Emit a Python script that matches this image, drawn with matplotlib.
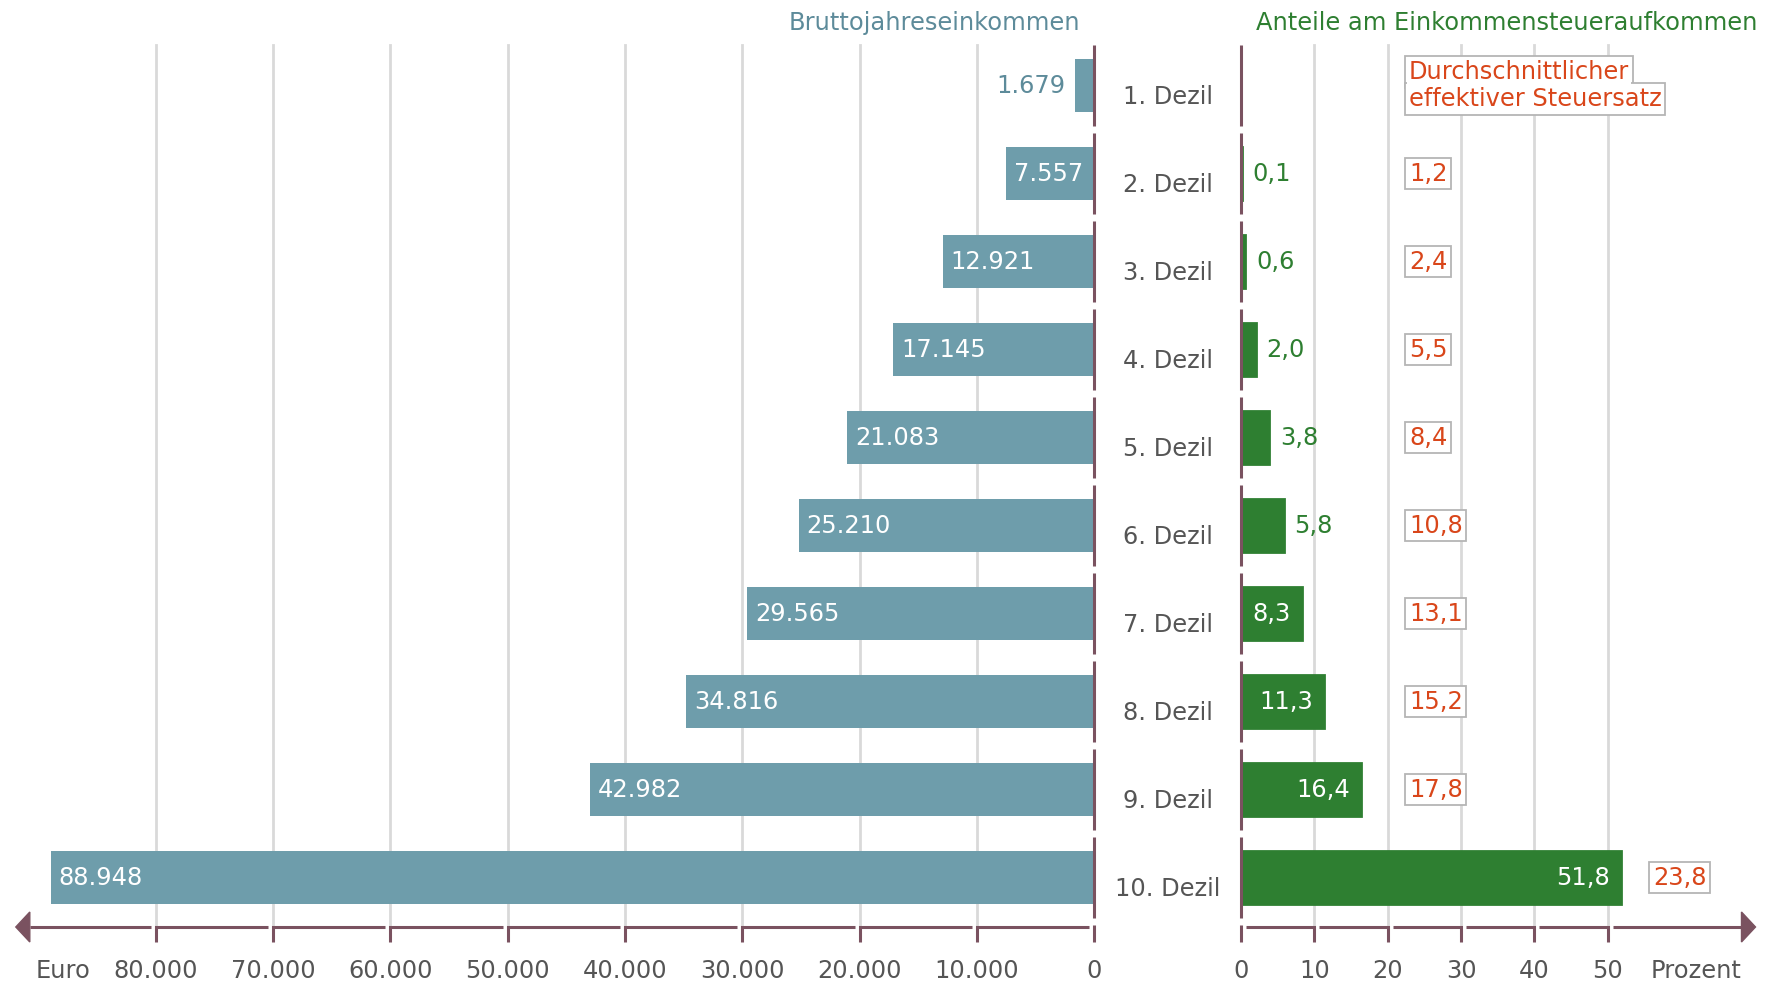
import matplotlib.pyplot as plt
from matplotlib.patches import Polygon

# Daten
dezile = ['1. Dezil', '2. Dezil', '3. Dezil', '4. Dezil', '5. Dezil',
          '6. Dezil', '7. Dezil', '8. Dezil', '9. Dezil', '10. Dezil']
einkommen = [1679, 7557, 12921, 17145, 21083, 25210, 29565, 34816, 42982, 88948]
anteile = [None, 0.1, 0.6, 2.0, 3.8, 5.8, 8.3, 11.3, 16.4, 51.8]
steuersatz = [None, 1.2, 2.4, 5.5, 8.4, 10.8, 13.1, 15.2, 17.8, 23.8]
euro_ticks = [0, 10000, 20000, 30000, 40000, 50000, 60000, 70000, 80000]
proz_ticks = [0, 10, 20, 30, 40, 50]

BLAU = '#6e9dab'
BLAU_TXT = '#5d8b9a'
GRUEN = '#2e7f31'
ROT = '#d9461a'
MAUVE = '#7a5260'
GRID = '#d9d9d9'
GRAU = '#555555'
FS = 17.4

W, H = 1769, 986
fig = plt.figure(figsize=(W / 100, H / 100), dpi=100)

# Pixelgeometrie
x0L = 1094.4
eur_px = (1094.4 - 155.7) / 80000
x0R = 1241.0
pct_px = (1607.7 - 1241.0) / 50
row0, row_h = 85.7, 88.0


def ypx(p):
    return (p - row0) / row_h


axL = fig.add_axes([0, 0, 1100 / W, 1])
axL.set_xlim(x0L / eur_px, (x0L - 1100) / eur_px)
axR = fig.add_axes([1100 / W, 0, 1 - 1100 / W, 1])
axR.set_xlim((1100 - x0R) / pct_px, (W - x0R) / pct_px)
for ax in (axL, axR):
    ax.set_ylim(ypx(H), ypx(0))
    ax.axis('off')

y_top = ypx(45)
y_ax = ypx(927)
tl = 15 / row_h
rows = list(range(len(dezile)))

# Gitterlinien
for t in euro_ticks[1:]:
    axL.plot([t, t], [y_top, y_ax], color=GRID, lw=2, zorder=0)
for t in proz_ticks[1:]:
    axR.plot([t, t], [y_top, y_ax], color=GRID, lw=2, zorder=0)

# Balken
axL.barh(rows, einkommen, height=0.6, color=BLAU, zorder=2)
rv = [0 if v is None else v for v in anteile]
axR.barh(rows, rv, height=0.6, color=GRUEN, zorder=2,
         edgecolor=[GRUEN if v else 'none' for v in anteile], linewidth=2)

# Achsenabschnitte je Zeile
for ax in (axL, axR):
    for i in rows:
        ax.plot([0, 0], [i - 0.46, i + 0.46], color=MAUVE, lw=2.2, zorder=3,
                clip_on=False, solid_capstyle='butt')
    ax.plot([0, 0], [y_ax - 0.02, y_ax + tl], color=MAUVE, lw=2.2, zorder=3,
            clip_on=False, solid_capstyle='butt')


def x_achse(ax, ticks, px, tip_dist_px):
    gap = 5 / px
    for a, b in zip(ticks[:-1], ticks[1:]):
        ax.plot([a + gap, b, b], [y_ax, y_ax, y_ax + tl], color=MAUVE, lw=2.2,
                zorder=3, solid_joinstyle='miter', solid_capstyle='butt')
    tip = tip_dist_px / px
    base = tip - 14 / px
    ax.plot([ticks[-1] + gap, base], [y_ax, y_ax], color=MAUVE, lw=2.2,
            zorder=3, solid_capstyle='butt')
    hh = 15 / row_h
    ax.add_patch(Polygon([[tip, y_ax], [base, y_ax - hh], [base, y_ax + hh]],
                         closed=True, color=MAUVE, zorder=3, clip_on=False))


x_achse(axL, euro_ticks, eur_px, x0L - 15.8)
x_achse(axR, proz_ticks, pct_px, 1755.5 - x0R)

# Tick-Beschriftungen
y_lab = ypx(971)
for t in euro_ticks:
    axL.text(t, y_lab, f'{t:,}'.replace(',', '.'), ha='center', va='center',
             fontsize=FS, color=GRAU)
axL.text((x0L - 63) / eur_px, y_lab, 'Euro', ha='center', va='center',
         fontsize=FS, color=GRAU)
for t in proz_ticks:
    axR.text(t, y_lab, str(t), ha='center', va='center', fontsize=FS, color=GRAU)
axR.text((1696 - x0R) / pct_px, y_lab, 'Prozent', ha='center', va='center',
         fontsize=FS, color=GRAU)

# Titel
axL.text((x0L - 1079.7) / eur_px, ypx(22.6), 'Bruttojahreseinkommen',
         ha='right', va='center', fontsize=FS, color=BLAU_TXT)
axR.text((1255.7 - x0R) / pct_px, ypx(22.6), 'Anteile am Einkommensteueraufkommen',
         ha='left', va='center', fontsize=FS, color=GRUEN)

# Dezil-Beschriftungen
for i, d in enumerate(dezile):
    axR.text((1168 - x0R) / pct_px, i + 0.13, d, ha='center', va='center',
             fontsize=FS, color=GRAU)

# Werte Einkommen
for i, v in enumerate(einkommen):
    s = f'{v:,}'.replace(',', '.')
    if v > 5000:
        axL.text(v - 8 / eur_px, i, s, ha='left', va='center', fontsize=FS,
                 color='white', zorder=4)
    else:
        axL.text(v + 9 / eur_px, i, s, ha='right', va='center', fontsize=FS,
                 color=BLAU_TXT, zorder=4)

# Werte Anteile
for i, v in enumerate(anteile):
    if v is None:
        continue
    s = f'{v:.1f}'.replace('.', ',')
    if v >= 8:
        axR.text(v - 11 / pct_px, i, s, ha='right', va='center', fontsize=FS,
                 color='white', zorder=4)
    else:
        axR.text(v + 11 / pct_px, i, s, ha='left', va='center', fontsize=FS,
                 color=GRUEN, zorder=4)

# Steuersatz-Kästchen
x_box = (1409 - x0R) / pct_px
for i, v in enumerate(steuersatz):
    if v is None:
        continue
    s = f'{v:.1f}'.replace('.', ',')
    xb = max(x_box, anteile[i] + 32 / pct_px)
    axR.text(xb, i, s, ha='left', va='center', fontsize=FS, color=ROT, zorder=5,
             bbox=dict(boxstyle='square,pad=0.15', fc='white', ec='#b5b5b5', lw=1.3))

# Legendenkästchen (zweizeilig, gestuft)
leg = ['Durchschnittlicher', 'effektiver Steuersatz']
ly = [ypx(72), ypx(99)]
for s, y in zip(leg, ly):
    axR.text(x_box, y, s, ha='left', va='center', fontsize=FS, color='none', zorder=5,
             bbox=dict(boxstyle='square,pad=0.15', fc='white', ec='#b5b5b5', lw=1.3))
for s, y in zip(leg, ly):
    axR.text(x_box, y, s, ha='left', va='center', fontsize=FS, color='none', zorder=6,
             bbox=dict(boxstyle='square,pad=0.07', fc='white', ec='none'))
for s, y in zip(leg, ly):
    axR.text(x_box, y, s, ha='left', va='center', fontsize=FS, color=ROT, zorder=7)

fig.savefig('out.png', dpi=100)
